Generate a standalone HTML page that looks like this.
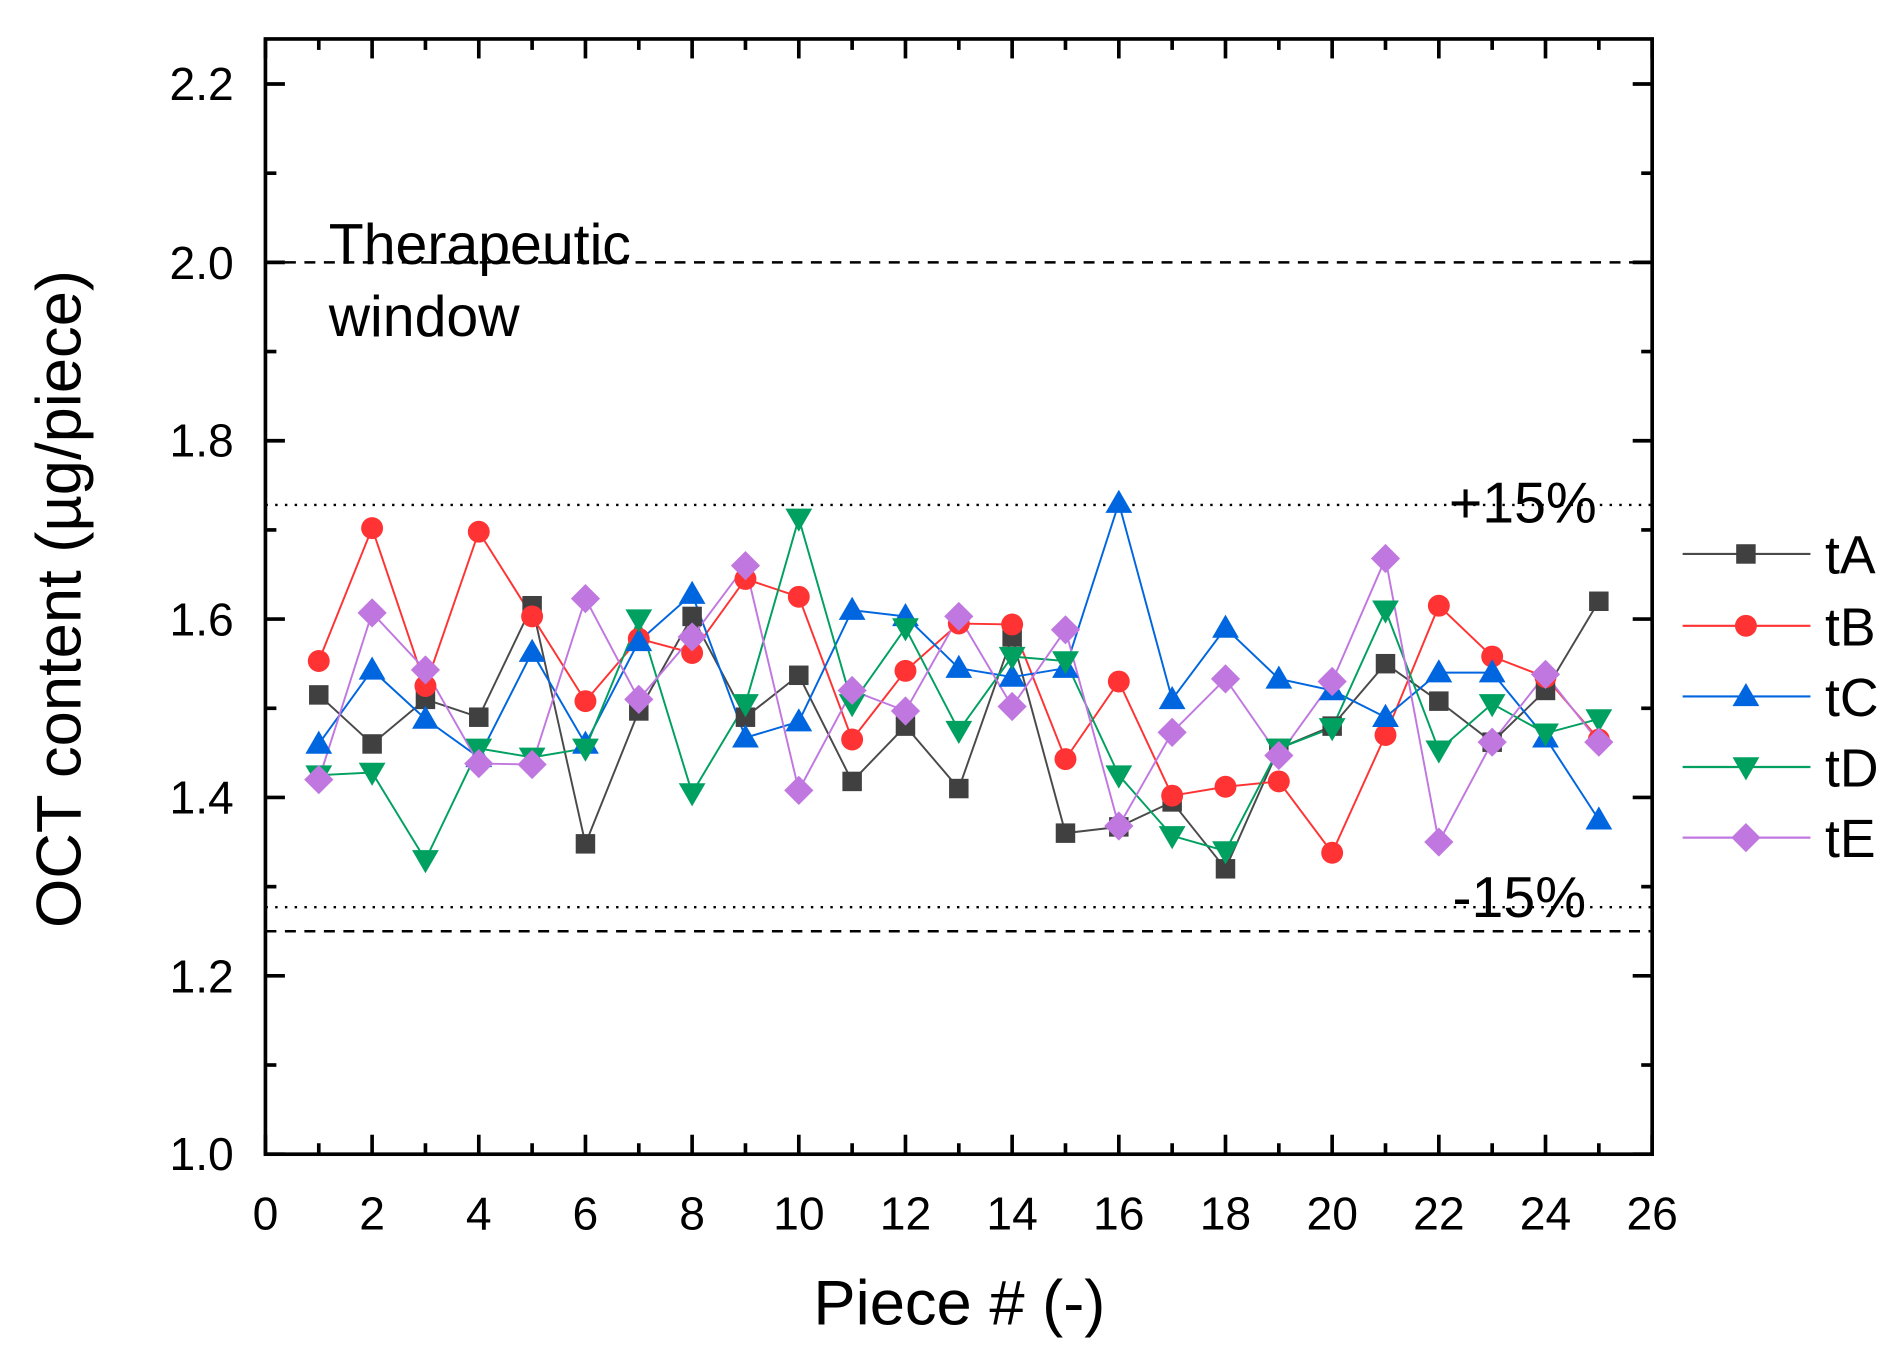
<!DOCTYPE html>
<html><head><meta charset="utf-8"><style>
html,body{margin:0;padding:0;background:#fff;}
svg{display:block;}
text{font-family:"Liberation Sans",Arial,sans-serif;fill:#000;}
</style></head><body>
<svg id="s" width="1903" height="1363" viewBox="0 0 1563 1119.5" xmlns="http://www.w3.org/2000/svg">
<rect x="0" y="0" width="1563" height="1120" fill="#fff"/>
<g id="grid"></g>
<g id="data"></g>
<rect x="218" y="32" width="1139" height="916" fill="none" stroke="#000" stroke-width="3"/>
<g id="ticks" stroke="#000" stroke-width="3"></g>
<g font-size="38" text-anchor="middle">
<text x="218" y="1010">0</text><text x="305.6" y="1010">2</text><text x="393.2" y="1010">4</text><text x="480.8" y="1010">6</text><text x="568.5" y="1010">8</text><text x="656.1" y="1010">10</text><text x="743.7" y="1010">12</text><text x="831.3" y="1010">14</text><text x="918.9" y="1010">16</text><text x="1006.5" y="1010">18</text><text x="1094.2" y="1010">20</text><text x="1181.8" y="1010">22</text><text x="1269.4" y="1010">24</text><text x="1357" y="1010">26</text>
</g>
<g font-size="38" text-anchor="end">
<text x="192" y="961">1.0</text><text x="192" y="815">1.2</text><text x="192" y="668">1.4</text><text x="192" y="522">1.6</text><text x="192" y="375">1.8</text><text x="192" y="229">2.0</text><text x="192" y="82">2.2</text>
</g>
<text x="788" y="1088" font-size="52" text-anchor="middle">Piece # (-)</text>
<text transform="translate(66,492) rotate(-90)" font-size="52" text-anchor="middle">OCT content (µg/piece)</text>
<text x="270" y="217" font-size="47">Therapeutic</text>
<text x="270" y="276" font-size="47">window</text>
<text x="1190" y="429" font-size="47">+15%</text>
<text x="1193" y="753" font-size="47">-15%</text>
<g id="leg"></g>
<g font-size="44">
<text x="1499" y="471">tA</text><text x="1499" y="530">tB</text><text x="1499" y="588">tC</text><text x="1499" y="646">tD</text><text x="1499" y="704">tE</text>
</g>
</svg>
<script>
const NS="http://www.w3.org/2000/svg";
const X=v=>218+v*1139/26, Y=v=>948-(v-1)*732.5;
function el(p,t,a){const e=document.createElementNS(NS,t);for(const k in a)e.setAttribute(k,a[k]);p.appendChild(e);return e;}
const g=document.getElementById('grid'),tk=document.getElementById('ticks'),d=document.getElementById('data'),lg=document.getElementById('leg');
el(g,'line',{x1:218,x2:1357,y1:Y(2),y2:Y(2),stroke:'#000','stroke-width':2,'stroke-dasharray':'9,7'});
el(g,'line',{x1:218,x2:1357,y1:Y(1.25),y2:Y(1.25),stroke:'#000','stroke-width':2,'stroke-dasharray':'9,7'});
el(g,'line',{x1:218,x2:1357,y1:Y(1.728),y2:Y(1.728),stroke:'#000','stroke-width':2,'stroke-dasharray':'2,6'});
el(g,'line',{x1:218,x2:1357,y1:Y(1.277),y2:Y(1.277),stroke:'#000','stroke-width':2,'stroke-dasharray':'2,6'});
for(let i=0;i<=26;i++){const x=X(i),L=i%2?9:16;
 el(tk,'line',{x1:x,x2:x,y1:948,y2:948-L});el(tk,'line',{x1:x,x2:x,y1:32,y2:32+L});}
for(let i=0;i<=12;i++){const y=Y(1+i*0.1),L=i%2?9:16;
 el(tk,'line',{x1:218,x2:218+L,y1:y,y2:y});el(tk,'line',{x1:1357,x2:1357-L,y1:y,y2:y});}
const S=[
['#4a4a4a','#404040','sq',[1.515,1.46,1.51,1.49,1.615,1.348,1.497,1.603,1.49,1.537,1.418,1.48,1.41,1.58,1.36,1.367,1.395,1.32,1.455,1.48,1.55,1.508,1.462,1.52,1.62]],
['#ff3333','#ff3333','ci',[1.553,1.702,1.525,1.698,1.603,1.508,1.578,1.562,1.645,1.625,1.465,1.542,1.595,1.594,1.443,1.53,1.402,1.412,1.418,1.338,1.47,1.615,1.558,1.535,1.465]],
['#0066e0','#0066e0','up',[1.46,1.543,1.488,1.445,1.563,1.46,1.575,1.628,1.467,1.485,1.61,1.603,1.545,1.535,1.545,1.73,1.51,1.59,1.533,1.52,1.49,1.54,1.54,1.467,1.375]],
['#00a060','#00a060','dn',[1.425,1.428,1.33,1.455,1.445,1.455,1.6,1.405,1.505,1.713,1.505,1.59,1.475,1.558,1.553,1.425,1.357,1.34,1.455,1.478,1.61,1.453,1.505,1.472,1.488]],
['#c078e0','#c078e0','di',[1.42,1.607,1.543,1.438,1.437,1.623,1.51,1.58,1.66,1.408,1.52,1.497,1.603,1.502,1.588,1.368,1.473,1.533,1.447,1.53,1.668,1.35,1.462,1.538,1.462]]];
function mk(p,t,x,y,c){
 if(t=='sq')el(p,'rect',{x:x-8,y:y-8,width:16,height:16,fill:c});
 else if(t=='ci')el(p,'circle',{cx:x,cy:y,r:9,fill:c});
 else if(t=='up')el(p,'polygon',{points:`${x},${y-11} ${x+11},${y+8} ${x-11},${y+8}`,fill:c});
 else if(t=='dn')el(p,'polygon',{points:`${x},${y+11} ${x+11},${y-8} ${x-11},${y-8}`,fill:c});
 else el(p,'polygon',{points:`${x},${y-12} ${x+12},${y} ${x},${y+12} ${x-12},${y}`,fill:c});
}
S.forEach((s,k)=>{
 el(d,'polyline',{points:s[3].map((v,i)=>X(i+1)+','+Y(v)).join(' '),fill:'none',stroke:s[0],'stroke-width':1.6});
});
S.forEach(s=>s[3].forEach((v,i)=>mk(d,s[2],X(i+1),Y(v),s[1])));
const ly=[455,514,572,630,688];
S.forEach((s,k)=>{el(lg,'line',{x1:1382,x2:1487,y1:ly[k],y2:ly[k],stroke:s[0],'stroke-width':1.8});mk(lg,s[2],1434,ly[k],s[1]);});
</script>
</body></html>
